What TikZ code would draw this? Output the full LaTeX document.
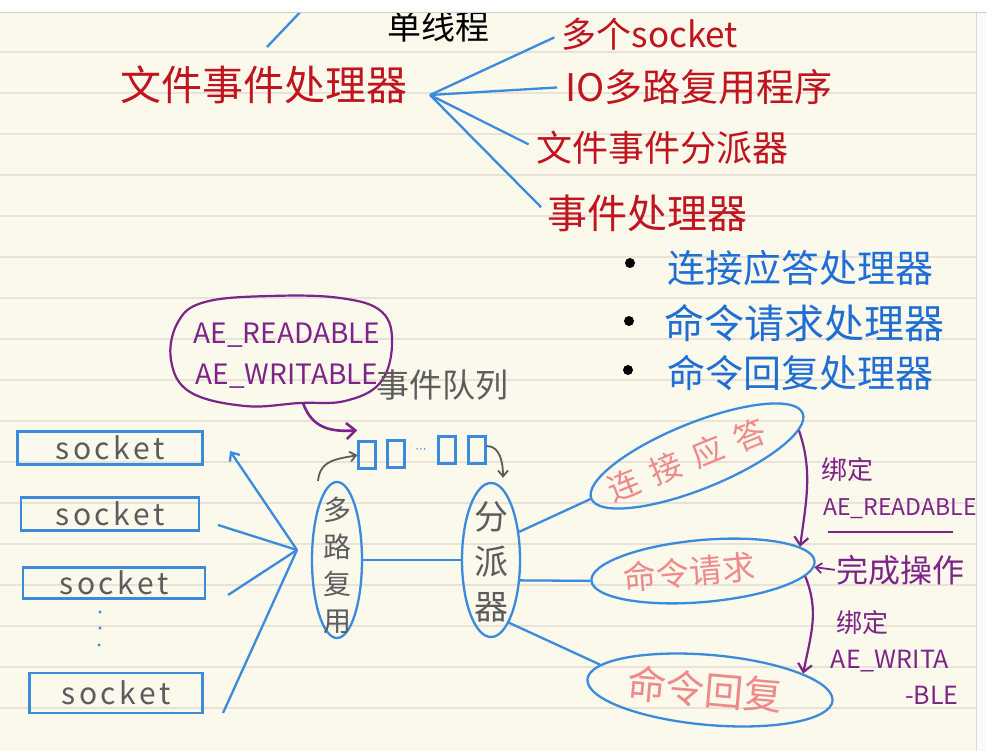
\documentclass[tikz,border=0pt]{standalone}
\usepackage{fontspec}
\newfontfamily\cjk{Noto Sans CJK SC}
\newfontfamily\cjkwide[LetterSpace=12]{Noto Sans CJK SC}
\newfontfamily\latdots{DejaVu Sans}
\usetikzlibrary{arrows.meta,shapes.geometric}
\definecolor{paper}{HTML}{FBF8EC}
\definecolor{ruleline}{HTML}{E7E3D8}
\definecolor{hred}{HTML}{C0141E}
\definecolor{lblue}{HTML}{3A8BDB}
\definecolor{tblue}{HTML}{1F6ED4}
\definecolor{hpurp}{HTML}{7D2488}
\definecolor{hpink}{HTML}{EE8A8A}
\definecolor{hgray}{HTML}{5C5C5C}
\begin{document}
\begin{tikzpicture}[x=1pt,y=-1pt,
  txt/.style={inner sep=0pt, font=\cjk\fontsize{#1}{#1}\selectfont},
  ell/.style={ellipse, draw=lblue, line width=2.3pt, inner sep=0pt, text=hpink},
  skbox/.style={draw=lblue, line width=2.3pt, inner sep=0pt, text=hgray, font=\cjkwide\fontsize{30}{30}\selectfont},
  qbox/.style={draw=lblue, line width=2.3pt, minimum width=17pt, minimum height=27pt, inner sep=0pt},
  bline/.style={lblue, line width=2.3pt},
  garrow/.style={hgray, line width=1.8pt, -{Straight Barb[length=6pt,width=10pt]}},
  parrow/.style={hpurp, line width=2.2pt, -{Straight Barb[length=8pt,width=14pt]}},
  bullet/.style={circle, fill=black, inner sep=0pt, minimum size=10pt}]
\useasboundingbox (0,0) rectangle (986,751);
\fill[paper] (0,0) rectangle (986,751);
\foreach \k in {0,...,17} \draw[ruleline, line width=1.2pt] (0,11+41*\k) -- (976,11+41*\k);

% top part
\node[txt=34, text=black] (st) at (438,27) {单线程};
\draw[bline] (267,47) -- (305,7);
\node[txt=41, text=hred] (fh) at (264,85) {文件事件处理器};
\node[txt=35, text=hred] (t1) at (650,34) {多个socket};
\node[txt=38, text=hred] (t2) at (699,87) {IO多路复用程序};
\node[txt=36, text=hred] (t3) at (662,148) {文件事件分派器};
\node[txt=40, text=hred] (t4) at (647,213) {事件处理器};
\coordinate (hub2) at (430,95);
\foreach \t in {t1,t2,t3,t4} \draw[bline, shorten >=8pt] (hub2) -- (\t.west);

\node[bullet] (d1) at (630,263) {};
\node[bullet] (d2) at (629,321) {};
\node[bullet] (d3) at (628,370) {};
\node[txt=38, text=tblue] (b1) at (800,268) {连接应答处理器};
\node[txt=40, text=tblue] (b2) at (804,323) {命令请求处理器};
\node[txt=38, text=tblue] (b3) at (800,373) {命令回复处理器};

% bubble
\draw[hpurp, line width=2.2pt] plot[smooth cycle, tension=0.65] coordinates {(300,403) (245,406) (190,392) (171,360) (178,322) (205,302) (270,296) (340,298) (382,312) (392,345) (380,383) (345,401)};
\node[txt=28, text=hpurp] (ae1) at (287,335) {AE\_READABLE};
\node[txt=28, text=hpurp] (ae2) at (287,376) {AE\_WRITABLE};
\node[txt=33, text=hgray] (ql) at (442,385) {事件队列};

% queue
\node[qbox] (q1) at (367,455) {};
\node[qbox] (q2) at (396,454) {};
\node[inner sep=0pt, text=lblue, font=\latdots\fontsize{12}{12}\selectfont] (qd) at (421,451) {···};
\node[qbox] (q3) at (447,450) {};
\node[qbox] (q4) at (477,450) {};
\draw[hpurp, line width=2.6pt, -{Straight Barb[length=9pt,width=16pt]}] (303,403) .. controls (312,428) and (330,432) .. ([yshift=10pt]q1.north west);

% sockets
\node[skbox, minimum width=185pt, minimum height=33pt] (sk1) at (110,448) {socket};
\node[skbox, minimum width=178pt, minimum height=33pt] (sk2) at (110,514) {socket};
\node[skbox, minimum width=182pt, minimum height=31pt] (sk3) at (114,583) {socket};
\node[skbox, minimum width=173pt, minimum height=40pt] (sk4) at (116,693) {socket};
\fill[lblue] (100,612) circle (1.6) (100,628) circle (1.6) (99,645) circle (1.6);

\coordinate (hub) at (297,550);
\coordinate (e1) at (230,451);
\coordinate (e2) at (218,525);
\coordinate (e3) at (228,595);
\coordinate (e4) at (223,713);
\draw[bline, -{Straight Barb[length=7pt,width=12pt]}] (hub) -- (e1);
\draw[bline] (hub) -- (e2);
\draw[bline] (hub) -- (e3);
\draw[bline] (hub) -- (e4);

% multiplexer and dispatcher
\node[ell, minimum width=50pt, minimum height=156pt] (mux) at (337,560) {};
\node[inner sep=0pt, text=hgray, align=center, font=\cjk\fontsize{28}{37}\selectfont] (muxt) at (337,565) {多\\路\\复\\用};
\node[ell, minimum width=58pt, minimum height=154pt] (disp) at (491,560) {};
\node[inner sep=0pt, text=hgray, align=center, font=\cjk\fontsize{34}{45}\selectfont] (dispt) at (491,562) {分\\派\\器};
\draw[bline] (mux.east) -- (disp.west);
\draw[garrow] ([xshift=-19pt]mux.north) .. controls +(2,-22) and +(-18,4) .. (q1.west);
\draw[garrow] ([yshift=4pt]q4.east) .. controls +(14,0) and +(0,-14) .. ([xshift=12pt,yshift=4pt]disp.north);

% handlers (text inside the ellipses, shifted slightly left)
\node[ell, minimum width=228pt, minimum height=66pt, rotate=22, font=\cjk\fontsize{32}{32}\selectfont] (conn) at (697,456) {\makebox[0pt]{\hspace*{-22pt}连\hspace{13pt}接\hspace{13pt}应\hspace{13pt}答}};
\node[ell, minimum width=224pt, minimum height=62pt, rotate=5, font=\cjk\fontsize{33}{33}\selectfont] (req) at (703,571) {\makebox[0pt]{\hspace*{-28pt}命令请求}};
\node[ell, minimum width=246pt, minimum height=70pt, rotate=-5, font=\cjk\fontsize{39}{39}\selectfont] (rep) at (710,690) {\makebox[0pt]{\hspace*{-10pt}命令回复}};
\draw[bline] (disp.45) -- (conn.west);
\draw[bline] (disp.-35) -- (req.west);
\draw[bline] (disp.-74) -- (rep.172);

% purple annotations
\node[txt=26, text=hpurp] (bind1) at (847,470) {绑定};
\node[txt=23, text=hpurp] (ar) at (900,509) {AE\_READABLE};
\draw[hpurp, line width=1.8pt] (828,532) -- (953,532);
\node[txt=32, text=hpurp] (done) at (900,570) {完成操作};
\node[txt=26, text=hpurp] (bind2) at (862,623) {绑定};
\node[txt=25, text=hpurp] (aw1) at (890,661) {AE\_WRITA};
\node[txt=25, text=hpurp] (aw2) at (932,695) {-BLE};
\draw[parrow] (conn.-8) .. controls +(14,40) and +(6,-45) .. (req.9);
\draw[parrow] (req.-8) .. controls +(14,35) and +(8,-40) .. (rep.15);
\draw[hpurp, line width=1.8pt, -{Straight Barb[length=6pt,width=10pt]}, shorten <=1pt] (done.west) -- (req.-3);

% frame: toolbar and right margin
\fill[white] (0,0) rectangle (986,12);
\draw[gray!40, line width=1pt] (0,12.5) -- (986,12.5);
\fill[white!96!gray] (976,13) rectangle (986,751);
\draw[gray!30, line width=1pt] (976,13) -- (976,751);
\end{tikzpicture}
\end{document}
